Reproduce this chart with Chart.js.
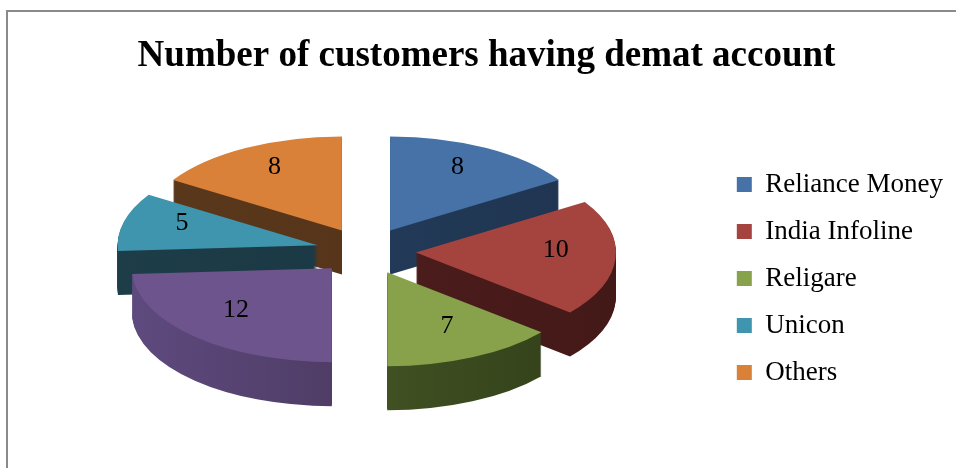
<!DOCTYPE html>
<html>
<head>
<meta charset="utf-8">
<script src="https://cdn.jsdelivr.net/npm/chart.js@4.4.0/dist/chart.umd.min.js"></script>
<style>
  html, body { margin: 0; padding: 0; background: #fff; }
  #wrap { position: relative; width: 956px; height: 468px; overflow: hidden; }
  #frame { position: absolute; left: 6px; top: 10px; width: 1000px; height: 500px;
           border-left: 2px solid #8a8a8a; border-top: 2px solid #8a8a8a; }
  canvas { position: absolute; left: 0; top: 0; }
</style>
</head>
<body>
<div id="wrap">
  <div id="frame"></div>
  <canvas id="chart" width="956" height="468"></canvas>
</div>
<script>
const chartTitle = "Number of customers having demat account";
// 4th slice has no entry in the original legend
const categories = ["Reliance Money", "India Infoline", "Religare", "", "Unicon", "Others"];
const customers = [8, 10, 7, 12, 5, 8];

const topColors = ["#4672a8", "#a5443f", "#87a24a", "#6e548c", "#3f95ad", "#d98039"];
const sideColors = [
  ["#25405f", "#1f3450"],
  ["#521f1e", "#431918"],
  ["#4f622b", "#323f19"],
  ["#5e4a7e", "#40304f"],
  ["#1d3d48", "#1a3540"],
  ["#5a381b", "#52321a"],
];

// 3d look of the pie
const pieCX = 366;
const pieCY = 251;
const pieRadius = 200;
const tilt = 0.47;
const depth = 44;
const explode = 50;
const labelAt = 0.7;

function placeOnPage(ctx, arc, s, dy) {
  const p = arc.getProps(["x", "y"], true);
  ctx.translate(pieCX, pieCY + dy);
  ctx.scale(s, s * tilt);
  ctx.translate(-p.x, -p.y);
}

const pie3d = {
  id: "pie3d",
  beforeDatasetsDraw(chart) {
    const ctx = chart.ctx;
    const arcs = chart.getDatasetMeta(0).data;
    const R = arcs[0].getProps(["outerRadius"], true).outerRadius;
    const s = pieRadius / R;
    const boom = explode / s;

    const order = arcs.map((arc, i) => i);
    const mid = (i) => {
      const a = arcs[i].getProps(["startAngle", "endAngle"], true);
      return (a.startAngle + a.endAngle) / 2;
    };
    order.sort((a, b) => Math.sin(mid(a)) - Math.sin(mid(b)));

    order.forEach((i) => {
      const arc = arcs[i];
      const m = mid(i);
      const saved = arc.options;
      const p = arc.getProps(["x", "y"], true);

      const grad = ctx.createLinearGradient(p.x - R, 0, p.x + R, 0);
      grad.addColorStop(0, sideColors[i][0]);
      grad.addColorStop(1, sideColors[i][1]);
      arc.options = Object.assign({}, saved, { backgroundColor: grad, borderWidth: 0 });
      for (let d = depth; d > 0; d--) {
        ctx.save();
        placeOnPage(ctx, arc, s, d);
        ctx.translate(Math.cos(m) * boom, Math.sin(m) * boom);
        arc.draw(ctx);
        ctx.restore();
      }
      arc.options = Object.assign({}, saved, { backgroundColor: topColors[i], borderWidth: 0 });
      ctx.save();
      placeOnPage(ctx, arc, s, 0);
      ctx.translate(Math.cos(m) * boom, Math.sin(m) * boom);
      arc.draw(ctx);
      ctx.restore();
      arc.options = saved;
    });

    // value labels on the top faces
    ctx.save();
    ctx.font = "26px 'Liberation Serif'";
    ctx.fillStyle = "#000";
    ctx.textAlign = "center";
    ctx.textBaseline = "middle";
    arcs.forEach((arc, i) => {
      const m = mid(i);
      const r = explode + labelAt * pieRadius;
      ctx.fillText(String(customers[i]), pieCX + Math.cos(m) * r, pieCY - 6 + Math.sin(m) * r * tilt);
    });
    ctx.restore();
    return false;
  },
};

new Chart(document.getElementById("chart"), {
  type: "pie",
  data: {
    labels: categories,
    datasets: [{
      data: customers,
      backgroundColor: topColors,
      borderWidth: 0,
    }],
  },
  options: {
    responsive: false,
    devicePixelRatio: 1,
    animation: false,
    layout: { padding: { top: 12, left: 20, right: 3, bottom: 62 } },
    plugins: {
      title: {
        display: true,
        text: chartTitle,
        color: "#000",
        font: { family: "'Liberation Serif'", size: 37, weight: "bold" },
        padding: { top: 22, bottom: 10 },
      },
      legend: {
        position: "right",
        align: "end",
        labels: {
          color: "#000",
          font: { family: "'Liberation Serif'", size: 27 },
          boxWidth: 15,
          boxHeight: 15,
          padding: 20,
          filter: (item) => item.text !== "",
        },
      },
      tooltip: { enabled: false },
    },
  },
  plugins: [pie3d],
});
</script>
</body>
</html>
